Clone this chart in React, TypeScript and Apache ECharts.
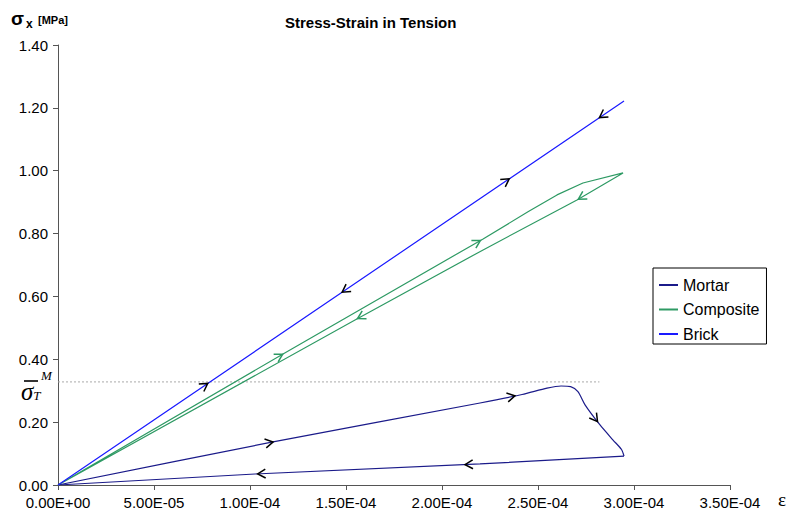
import React, { useEffect, useRef } from "react";
import * as echarts from "echarts";

// Axis ranges
const strainMin = 0;
const strainMax = 3.5e-4;
const strainStep = 5e-5;
const stressMin = 0;
const stressMax = 1.4;
const stressStep = 0.2;

// Brick: elastic loading and unloading on the same path
const brickLoad: number[][] = [
  [0, 0],
  [2.948e-4, 1.222],
];
const brickUnload: number[][] = [
  [2.948e-4, 1.222],
  [0, 0],
];

// Composite: loading branch then unloading branch
const compositeLoad: number[][] = [
  [0, 0],
  [1.172e-4, 0.417],
  [2.214e-4, 0.783],
  [2.45e-4, 0.87],
  [2.599e-4, 0.923],
  [2.734e-4, 0.961],
  [2.943e-4, 0.993],
];
const compositeUnload: number[][] = [
  [2.943e-4, 0.993],
  [2.703e-4, 0.907],
  [2.214e-4, 0.748],
  [1.547e-4, 0.525],
  [0, 0],
];

// Mortar: loading to peak, softening drop, then unloading
const mortarLoad: number[][] = [
  [0, 0],
  [1.12e-4, 0.137],
  [2.198e-4, 0.261],
  [2.417e-4, 0.288],
  [2.547e-4, 0.308],
  [2.62e-4, 0.315],
  [2.67e-4, 0.313],
];
const mortarDrop: number[][] = [
  [2.67e-4, 0.313],
  [2.708e-4, 0.297],
  [2.745e-4, 0.255],
  [2.823e-4, 0.191],
  [2.891e-4, 0.143],
  [2.935e-4, 0.113],
  [2.948e-4, 0.092],
];
const mortarUnload: number[][] = [
  [2.948e-4, 0.092],
  [2.198e-4, 0.067],
  [1.026e-4, 0.035],
  [0, 0],
];

// Tensile strength of mortar (dotted reference level)
const mortarStrength = 0.328;
const mortarStrengthEnd = 2.82e-4;

// Direction arrows: strain positions along each branch
const brickLoadArrows = [0.78e-4, 2.35e-4];
const brickUnloadArrows = [2.82e-4, 1.48e-4];
const compositeLoadArrows = [1.17e-4, 2.2e-4];
const compositeUnloadArrows = [2.71e-4, 1.56e-4];
const mortarLoadArrows = [1.12e-4, 2.38e-4];
const mortarDropArrows = [2.81e-4];
const mortarUnloadArrows = [2.12e-4, 1.04e-4];

const legendNames = ["Mortar", "Composite", "Brick"];

const COLOR_MORTAR = "#1b1b8a";
const COLOR_COMPOSITE = "#2e9a64";
const COLOR_BRICK = "#1a1aff";

const FONT = "'Liberation Sans', Arial, sans-serif";
const SERIF = "'Liberation Serif', 'Times New Roman', serif";

// Locate an arrow on a branch: returns [x, y, segStartX, segStartY]
function placeArrow(branch: number[][], x: number): number[] | null {
  for (let i = 0; i < branch.length - 1; i++) {
    const a = branch[i];
    const b = branch[i + 1];
    if (a[0] !== b[0] && (x - a[0]) * (x - b[0]) <= 0) {
      const t = (x - a[0]) / (b[0] - a[0]);
      return [x, a[1] + t * (b[1] - a[1]), a[0], a[1]];
    }
  }
  return null;
}

function arrowsFor(branch: number[][], xs: number[]): number[][] {
  return xs.map((x) => placeArrow(branch, x)).filter((p): p is number[] => p !== null);
}

function arrowSeries(name: string, data: number[][], color: string) {
  return {
    type: "custom",
    name,
    silent: true,
    z: 5,
    data,
    renderItem: (_params: any, api: any) => {
      const tip = api.coord([api.value(0), api.value(1)]);
      const from = api.coord([api.value(2), api.value(3)]);
      let dx = tip[0] - from[0];
      let dy = tip[1] - from[1];
      const len = Math.hypot(dx, dy) || 1;
      dx /= len;
      dy /= len;
      const arm = 9;
      const ang = (30 * Math.PI) / 180;
      const bx = -dx;
      const by = -dy;
      const rot = (s: number) => [
        tip[0] + arm * (bx * Math.cos(s * ang) - by * Math.sin(s * ang)),
        tip[1] + arm * (bx * Math.sin(s * ang) + by * Math.cos(s * ang)),
      ];
      return {
        type: "polyline",
        shape: { points: [rot(1), tip, rot(-1)] },
        style: { stroke: color, fill: null, lineWidth: 1.5 },
      };
    },
  };
}

function formatStrain(v: number): string {
  if (v === 0) return "0.00E+00";
  const [m, e] = v.toExponential(2).split("e");
  const n = parseInt(e, 10);
  const sign = n < 0 ? "-" : "+";
  const abs = Math.abs(n);
  return `${m}E${sign}${abs < 10 ? "0" + abs : abs}`;
}

function lineSeries(name: string, data: number[][], color: string, smooth: number | boolean = false) {
  return {
    type: "line",
    name,
    data,
    smooth,
    showSymbol: false,
    symbol: "none",
    lineStyle: { color, width: 1.2 },
    itemStyle: { color },
    z: 3,
  };
}

export default function App() {
  const ref = useRef<HTMLDivElement>(null);

  useEffect(() => {
    if (!ref.current) return;
    const chart = echarts.init(ref.current, undefined, { renderer: "svg" });

    const option: any = {
      animation: false,
      backgroundColor: "#ffffff",
      title: {
        text: "Stress-Strain in Tension",
        left: 280,
        top: 10,
        textStyle: { fontFamily: FONT, fontSize: 15, fontWeight: "bold", color: "#000" },
      },
      legend: {
        data: legendNames,
        orient: "vertical",
        left: 653,
        top: 268,
        width: 114,
        itemWidth: 19,
        itemHeight: 14,
        itemGap: 8.5,
        padding: [9, 7, 2, 5],
        borderColor: "#000",
        borderWidth: 1,
        backgroundColor: "#fff",
        itemStyle: { opacity: 0 },
        textStyle: { fontFamily: FONT, fontSize: 16, color: "#000" },
      },
      grid: { left: 58, right: 64, top: 45, bottom: 28, containLabel: false },
      xAxis: {
        type: "value",
        min: strainMin,
        max: strainMax,
        interval: strainStep,
        splitLine: { show: false },
        axisLine: { lineStyle: { color: "#555", width: 1 } },
        axisTick: { show: true, length: 5, lineStyle: { color: "#555" } },
        axisLabel: {
          formatter: formatStrain,
          fontFamily: FONT,
          fontSize: 15,
          color: "#000",
          margin: 10,
        },
      },
      yAxis: {
        type: "value",
        min: stressMin,
        max: stressMax,
        interval: stressStep,
        splitLine: { show: false },
        axisLine: { show: true, lineStyle: { color: "#555", width: 1 } },
        axisTick: { show: true, length: 5, lineStyle: { color: "#555" } },
        axisLabel: {
          formatter: (v: number) => v.toFixed(2),
          fontFamily: FONT,
          fontSize: 15,
          color: "#000",
          margin: 10,
        },
      },
      series: [
        {
          type: "line",
          name: "mortar-strength",
          data: [
            [0, mortarStrength],
            [mortarStrengthEnd, mortarStrength],
          ],
          showSymbol: false,
          symbol: "none",
          silent: true,
          lineStyle: { color: "#aaaaaa", width: 1, type: [2, 2] },
          z: 1,
        },
        lineSeries("Mortar", [...mortarLoad, ...mortarDrop.slice(1)], COLOR_MORTAR, 0.25),
        lineSeries("Mortar", mortarUnload, COLOR_MORTAR),
        lineSeries("Composite", [...compositeLoad, ...compositeUnload.slice(1)], COLOR_COMPOSITE),
        lineSeries("Brick", [...brickLoad, ...brickUnload.slice(1)], COLOR_BRICK),
        arrowSeries(
          "brick-arrows",
          [...arrowsFor(brickLoad, brickLoadArrows), ...arrowsFor(brickUnload, brickUnloadArrows)],
          "#000"
        ),
        arrowSeries(
          "composite-arrows",
          [...arrowsFor(compositeLoad, compositeLoadArrows), ...arrowsFor(compositeUnload, compositeUnloadArrows)],
          COLOR_COMPOSITE
        ),
        arrowSeries(
          "mortar-arrows",
          [
            ...arrowsFor(mortarLoad, mortarLoadArrows),
            ...arrowsFor(mortarDrop, mortarDropArrows),
            ...arrowsFor(mortarUnload, mortarUnloadArrows),
          ],
          "#000"
        ),
      ],
      graphic: [
        // y-axis name: sigma_x [MPa]
        { type: "text", left: 11, top: 9, style: { text: "σ", font: `bold 19px ${FONT}`, fill: "#000" } },
        { type: "text", left: 26, top: 18, style: { text: "x", font: `bold 12px ${FONT}`, fill: "#000" } },
        { type: "text", left: 38, top: 14, style: { text: "[MPa]", font: `bold 11px ${FONT}`, fill: "#000" } },
        // strain symbol at the end of the x axis
        { type: "text", left: 778, top: 490, style: { text: "ε", font: `19px ${SERIF}`, fill: "#000" } },
        // mortar tensile strength label: sigma bar with sub T and sup M
        {
          type: "text",
          left: 21,
          top: 369,
          style: {
            text: "{m|M}\n{s|σ}{t|T}",
            rich: {
              m: { font: `italic 13px ${SERIF}`, lineHeight: 12, padding: [0, 0, 0, 20], fill: "#000" },
              s: { font: `italic 25px ${SERIF}`, lineHeight: 20, fill: "#000", verticalAlign: "middle" },
              t: { font: `italic 13px ${SERIF}`, lineHeight: 12, fill: "#000", verticalAlign: "bottom" },
            },
          },
        },
        { type: "line", shape: { x1: 24, y1: 381, x2: 38, y2: 381 }, style: { stroke: "#000", lineWidth: 1.6 } },
      ],
    };

    chart.setOption(option);
    return () => chart.dispose();
  }, []);

  return (
    <div
      ref={ref}
      style={{ position: "fixed", left: 0, top: 0, width: 794, height: 513 }}
    />
  );
}
